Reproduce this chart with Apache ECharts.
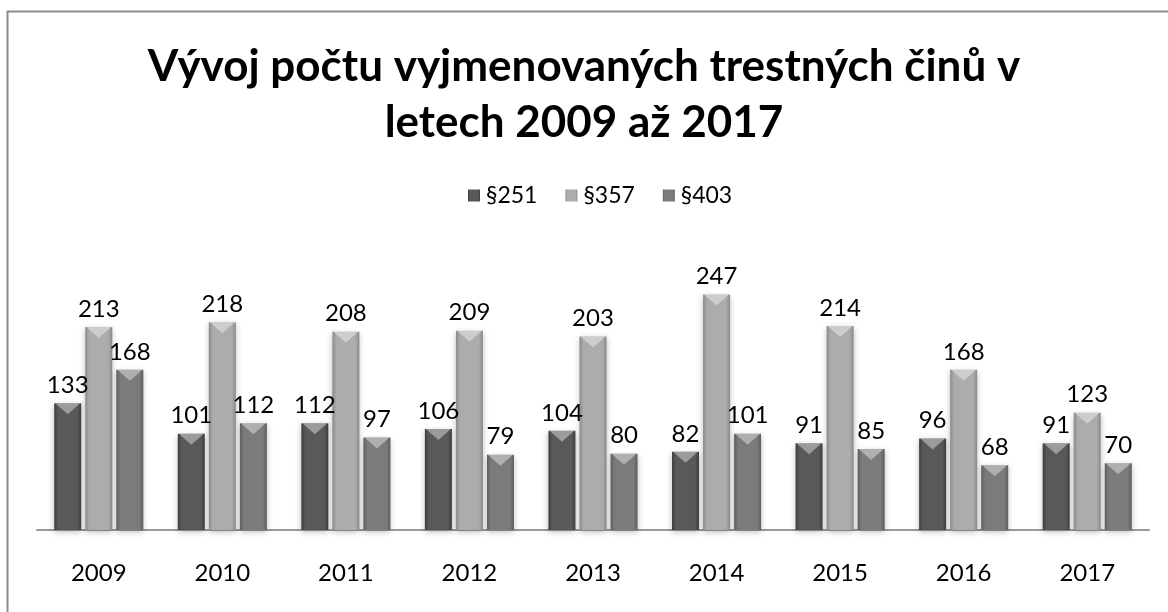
<!DOCTYPE html>
<html>
<head>
<meta charset="utf-8">
<script src="https://cdn.jsdelivr.net/npm/echarts@6/dist/echarts.min.js"></script>
<style>
  html, body { margin: 0; padding: 0; background: #fff; }
  #chart { width: 1168px; height: 612px; }
</style>
</head>
<body>
<div id="chart"></div>
<script>
// data
var years = ['2009', '2010', '2011', '2012', '2013', '2014', '2015', '2016', '2017'];
var s251 = [133, 101, 112, 106, 104, 82, 91, 96, 91];
var s357 = [213, 218, 208, 209, 203, 247, 214, 168, 123];
var s403 = [168, 112, 97, 79, 80, 101, 85, 68, 70];
var names = ['§251', '§357', '§403'];

var chart = echarts.init(document.getElementById('chart'));

// horizontal shading so bars look rounded like the original
function shade(edge, mid) {
    return new echarts.graphic.LinearGradient(0, 0, 1, 0, [
        { offset: 0, color: edge },
        { offset: 0.15, color: mid },
        { offset: 0.85, color: mid },
        { offset: 1, color: edge }
    ]);
}

var colors = [
    shade('#3e3e3e', '#595959'),
    shade('#8a8a8a', '#acacac'),
    shade('#5e5e5e', '#7b7b7b')
];

var barW = 27;
var gap = '15%';
var catGap = '28%';

function barSeries(name, data, color) {
    return {
        name: name,
        type: 'bar',
        data: data,
        barWidth: barW,
        barGap: gap,
        barCategoryGap: catGap,
        itemStyle: {
            color: color,
            shadowColor: 'rgba(0,0,0,0.25)',
            shadowBlur: 6,
            shadowOffsetY: 2
        },
        label: {
            show: true,
            position: 'top',
            distance: 6,
            color: '#000',
            fontFamily: 'Lato',
            fontSize: 24
        }
    };
}

// light triangular bevel at the top of each bar
function bevelSeries(name, data) {
    return {
        name: name,
        type: 'pictorialBar',
        data: data,
        barWidth: barW,
        barGap: gap,
        barCategoryGap: catGap,
        symbol: 'path://M0,0 L10,0 L5,4 Z',
        symbolSize: [barW - 2, 11],
        symbolPosition: 'end',
        symbolRepeat: false,
        itemStyle: { color: 'rgba(255,255,255,0.4)' },
        silent: true,
        z: 5
    };
}

var option = {
    backgroundColor: '#fff',
    animation: false,
    title: {
        text: 'Vývoj počtu vyjmenovaných trestných činů v\nletech 2009 až 2017',
        left: 'center',
        top: 34,
        textStyle: {
            fontFamily: 'Lato',
            fontWeight: 'bold',
            fontSize: 44,
            lineHeight: 56,
            color: '#000'
        }
    },
    legend: {
        data: names,
        top: 179,
        left: 463,
        icon: 'rect',
        itemWidth: 12,
        itemHeight: 12,
        itemGap: 28,
        textStyle: { fontFamily: 'Lato', fontSize: 23, color: '#000', padding: [0, 0, 0, 1] }
    },
    grid: { left: 37, right: 19, top: 244, bottom: 82 },
    xAxis: {
        type: 'category',
        data: years,
        axisLine: { lineStyle: { color: '#9a9a9a', width: 2 } },
        axisTick: { show: false },
        axisLabel: { margin: 31, fontFamily: 'Lato', fontSize: 24, color: '#000' }
    },
    yAxis: {
        type: 'value',
        min: 0,
        max: 300,
        show: false
    },
    graphic: [{
        type: 'rect',
        shape: { x: 7.5, y: 11.5, width: 1300, height: 800 },
        style: { fill: 'none', stroke: '#8c8c8c', lineWidth: 2 },
        silent: true
    }],
    series: [
        barSeries(names[0], s251, colors[0]),
        barSeries(names[1], s357, colors[1]),
        barSeries(names[2], s403, colors[2]),
        bevelSeries('b251', s251),
        bevelSeries('b357', s357),
        bevelSeries('b403', s403)
    ]
};

chart.setOption(option);
</script>
</body>
</html>
